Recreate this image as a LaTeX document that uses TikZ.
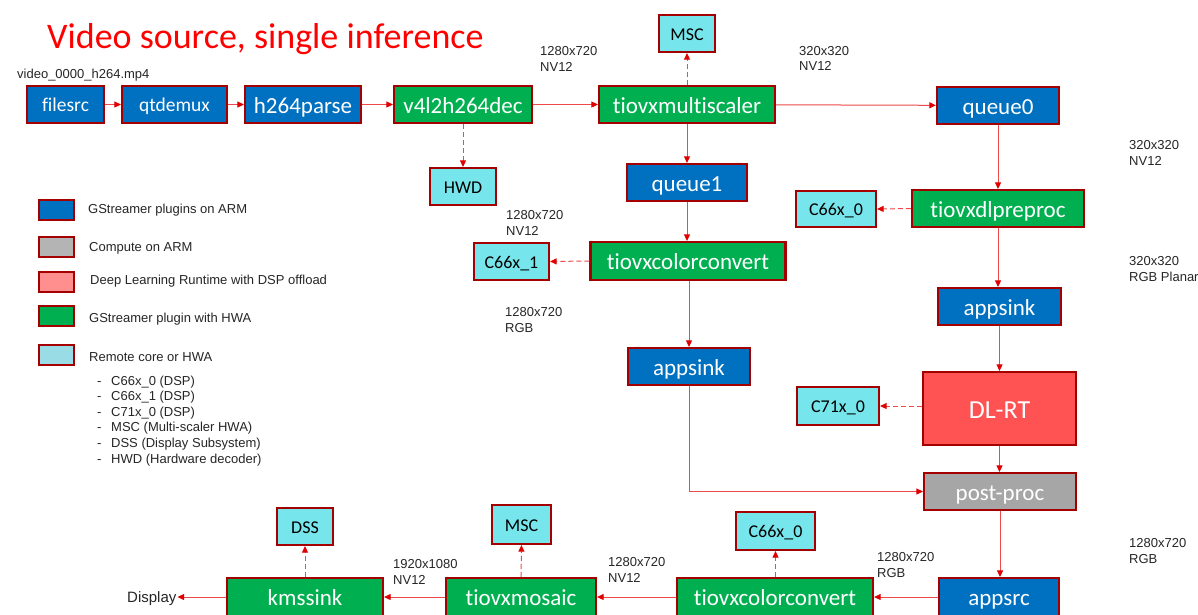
\documentclass[tikz,border=0pt]{standalone}
\usepackage{fontspec}
\setmainfont{Carlito}[Ligatures=NoCommon]
\newfontfamily\arialf{Liberation Sans}
\usetikzlibrary{arrows.meta}
\definecolor{gblue}{HTML}{0070C0}
\definecolor{ggreen}{HTML}{00B050}
\definecolor{gcyan}{HTML}{77E6EC}
\definecolor{ggray}{HTML}{A6A6A6}
\definecolor{gdlrt}{HTML}{FF5353}
\definecolor{bord}{HTML}{A50000}
\definecolor{lnred}{HTML}{EE4A4A}
\definecolor{arrred}{HTML}{E00000}
\definecolor{lgpink}{HTML}{FF8F8F}
\definecolor{lgcyan}{HTML}{9ADCE6}
\definecolor{lggray}{HTML}{B4B4B4}
\begin{document}
\begin{tikzpicture}[x=1pt,y=-1pt,
  box/.style={draw=bord, line width=2.2pt, inner sep=0pt, text height=17.2pt, text depth=0pt,
    font=\fontsize{23}{23}\selectfont, text=white},
  sz/.style 2 args={minimum width=#1, minimum height=#2},
  smallfont/.style={font=\fontsize{19.5}{19.5}\selectfont, text height=14.6pt},
  bluebox/.style={box, fill=gblue},
  greenbox/.style={box, fill=ggreen},
  graybox/.style={box, fill=ggray},
  redbox/.style={box, fill=gdlrt},
  cyanbox/.style={box, fill=gcyan, text=black, font=\fontsize{18}{18}\selectfont, text height=13.8pt},
  legbox/.style={draw=bord, line width=2pt, minimum width=35, minimum height=20, inner sep=0pt},
  legtxt/.style={anchor=base west, inner sep=0pt, font=\arialf\fontsize{13}{15.5}\selectfont, text=black!85},
  lbl/.style={anchor=north west, inner sep=0pt, align=left, font=\arialf\fontsize{13}{15.5}\selectfont, text=black!85},
  conn/.style={draw=lnred, line width=1pt, -{Triangle[length=6.5pt,width=6pt,color=arrred]}},
  dconn/.style={conn, dash pattern=on 5pt off 3pt}
]
\fill[white] (0,0) rectangle (1198,614);
\useasboundingbox (0,0) rectangle (1198,614);
\clip (0,0) rectangle (1198,614);

% title
\node[anchor=base west, inner sep=0pt, text=red, font=\fontsize{36}{36}\selectfont] (title) at (47,48) {Video source, single inference};
\node[legtxt] (vid) at (17,78) {video\_0000\_h264.mp4};

% top row
\node[bluebox, sz={77}{37}, smallfont] (filesrc) at (65.5,104.5) {filesrc};
\node[bluebox, sz={105}{37}, smallfont] (qtdemux) at (174.5,104.5) {qtdemux};
\node[bluebox, sz={116}{37}] (h264) at (303,104.5) {h264parse};
\node[greenbox, sz={138}{37}] (v4l2) at (463,104.5) {v4l2h264dec};
\node[greenbox, sz={176}{37}] (ms) at (687,104.5) {tiovxmultiscaler};
\node[bluebox, sz={122}{37}] (q0) at (998,105.5) {queue0};
\node[cyanbox, sz={56}{37}] (msc1) at (687,33.5) {MSC};
\node[cyanbox, sz={66}{37}] (hwd) at (463,186.5) {HWD};

% middle column
\node[bluebox, sz={120}{37}] (q1) at (687,182.5) {queue1};
\node[greenbox, sz={195}{38}] (cc) at (688,261) {tiovxcolorconvert};
\node[cyanbox, sz={75}{37}] (c661) at (511.5,261.5) {C66x\_1};
\node[bluebox, sz={122}{37}] (asM) at (689,366.5) {appsink};

% right column
\node[greenbox, sz={172}{37}] (dlpre) at (998,208.5) {tiovxdlpreproc};
\node[cyanbox, sz={80}{36}] (c660) at (836,209) {C66x\_0};
\node[bluebox, sz={123}{37}] (asR) at (999.5,306.5) {appsink};
\node[redbox, sz={153}{73}, font=\fontsize{26}{26}\selectfont, text height=19.5pt] (dlrt) at (999.5,408.5) {DL-RT};
\node[cyanbox, sz={82}{38}] (c71) at (838,406) {C71x\_0};
\node[graybox, sz={152}{37}] (pp) at (1000,491.5) {post-proc};

% bottom row
\node[bluebox, sz={120}{38}] (asrc) at (999,597) {appsrc};
\node[greenbox, sz={196}{38}] (ccB) at (775,597) {tiovxcolorconvert};
\node[cyanbox, sz={79}{38}] (c66B) at (775.5,531) {C66x\_0};
\node[greenbox, sz={150}{38}] (mos) at (521,597) {tiovxmosaic};
\node[cyanbox, sz={59}{39}] (mscB) at (521.5,524.5) {MSC};
\node[greenbox, sz={156}{38}] (kms) at (305,597) {kmssink};
\node[cyanbox, sz={56}{37}] (dss) at (305,526.5) {DSS};
\node[anchor=base west, inner sep=1pt, font=\arialf\fontsize{15}{15}\selectfont, text=black!85] (disp) at (126,602) {Display};

% format labels
\node[lbl] (l1) at (540,46.3) {1280x720\\NV12};
\node[lbl] (l2) at (799,45.8) {320x320\\NV12};
\node[lbl] (l3) at (1129,140.3) {320x320\\NV12};
\node[lbl] (l4) at (506,210.3) {1280x720\\NV12};
\node[lbl] (l5) at (1129,256.3) {320x320\\RGB Planar};
\node[lbl] (l6) at (505,307.3) {1280x720\\RGB};
\node[lbl] (l7) at (1129,538.3) {1280x720\\RGB};
\node[lbl] (l8) at (393,559.3) {1920x1080\\NV12};
\node[lbl] (l9) at (608,557.3) {1280x720\\NV12};
\node[lbl] (l10) at (877,552.3) {1280x720\\RGB};

% legend
\node[legbox, fill=gblue] (lg1) at (56.5,210) {};
\node[legbox, fill=lggray] (lg2) at (56.5,246.5) {};
\node[legbox, fill=lgpink] (lg3) at (56.5,282) {};
\node[legbox, fill=ggreen] (lg4) at (56.5,315.5) {};
\node[legbox, fill=lgcyan] (lg5) at (56.5,354.5) {};
\node[legtxt] (lt1) at (88,213) {GStreamer plugins on ARM};
\node[legtxt] (lt2) at (89,251.5) {Compute on ARM};
\node[legtxt] (lt3) at (90,284.5) {Deep Learning Runtime with DSP offload};
\node[legtxt] (lt4) at (89,322.5) {GStreamer plugin with HWA};
\node[legtxt] (lt5) at (89,361) {Remote core or HWA};
\foreach \t [count=\i] in {C66x\_0 (DSP), C66x\_1 (DSP), C71x\_0 (DSP), MSC (Multi-scaler HWA), DSS (Display Subsystem), HWD (Hardware decoder)}{
  \node[legtxt] (li\i) at (97,{385+15.6*(\i-1)}) {\makebox[14pt][l]{-}\t};
}

% connectors top row
\draw[conn] (filesrc) -- (qtdemux);
\draw[conn] (qtdemux) -- (h264);
\draw[conn] (h264) -- (v4l2);
\draw[conn] (v4l2) -- (ms);
\draw[conn] (ms) -- (q0);
\draw[dconn] (v4l2.south) -- (hwd.north);
\draw[dconn] (ms.north) -- (msc1.south);

% middle column
\draw[conn] (ms.south) -- (ms.south |- q1.north);
\draw[conn] (q1.south) -- (q1.south |- cc.north);
\draw[dconn] (cc.west) -- (c661.east);
\draw[conn] (cc.south -| asM) -- (asM.north);
\draw[conn] (asM.south) |- (pp.west);

% right column
\draw[conn] (q0.south) -- (q0.south |- dlpre.north);
\draw[dconn] (dlpre.west) -- (c660.east);
\draw[conn] (dlpre.south) -- (dlpre.south |- asR.north);
\draw[conn] (asR.south) -- (asR.south |- dlrt.north);
\draw[dconn] (dlrt.west |- c71.east) -- (c71.east);
\draw[conn] (dlrt.south) -- (dlrt.south |- pp.north);
\draw[conn] (pp.south) -- (pp.south |- asrc.north);

% bottom row
\draw[conn] (asrc) -- (ccB);
\draw[dconn] (ccB.north -| c66B) -- (c66B.south);
\draw[conn] (ccB) -- (mos);
\draw[dconn] (mos.north) -- (mscB.south);
\draw[conn] (mos) -- (kms);
\draw[dconn] (kms.north) -- (dss.south);
\draw[conn] (kms.west) -- (kms.west -| disp.east);
\end{tikzpicture}
\end{document}
